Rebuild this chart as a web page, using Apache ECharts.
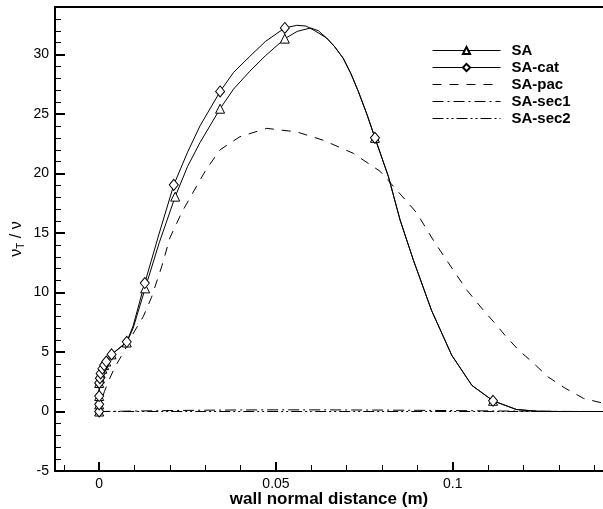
<!DOCTYPE html>
<html>
<head>
<meta charset="utf-8">
<script src="https://cdn.jsdelivr.net/npm/echarts@6/dist/echarts.min.js"></script>
<style>html,body{margin:0;padding:0;background:#fff}#c{width:603px;height:509px}</style>
</head>
<body>
<div id="c"></div>
<script>
// ---- data ----
var saX   = [0,0,0,0,0.0002,0.0004,0.0009,0.0014,0.002,0.0035,0.0078,0.0096,0.013,0.017,0.0215,0.025,0.0285,0.0342,0.038,0.0426,0.047,0.0525,0.056,0.0598,0.062,0.0643,0.0665,0.069,0.0712,0.0733,0.0757,0.078,0.0818,0.0851,0.0889,0.094,0.0997,0.1054,0.1114,0.118,0.124,0.13,0.1425];
var saY   = [0,0.6,1.3,2.4,2.8,3.2,3.6,3.9,4.2,4.8,5.8,7.0,10.35,14.2,18.06,20.6,22.6,25.45,27.1,28.6,29.9,31.34,31.95,32.24,32.0,31.4,30.7,29.7,28.4,26.9,25.0,23.0,19.75,16.1,12.7,8.5,4.74,2.2,0.9,0.17,0.02,0,0];
var saMarks = [0,1,2,3,4,5,6,7,8,9,10,12,14,17,21,31,38];

var catX  = [0,0,0,0,0.0002,0.0004,0.0009,0.0014,0.002,0.0035,0.0078,0.0096,0.0129,0.017,0.0211,0.025,0.0285,0.0342,0.038,0.0426,0.047,0.0525,0.0559,0.0585,0.061,0.0643,0.0665,0.069,0.0712,0.0733,0.0757,0.078,0.0818,0.0851,0.0889,0.094,0.0997,0.1054,0.1114,0.118,0.124,0.13,0.1425];
var catY  = [0,0.6,1.3,2.4,2.8,3.2,3.6,3.9,4.2,4.8,5.86,7.2,10.8,15.0,19.05,21.8,24.0,26.9,28.5,29.85,31.1,32.24,32.46,32.4,32.0,31.4,30.7,29.7,28.4,26.9,25.0,23.0,19.75,16.1,12.7,8.5,4.74,2.2,0.9,0.17,0.02,0,0];
var catMarks = [0,1,2,3,4,5,6,7,8,9,10,12,14,17,21,31,38];

var pacX  = [0,0.0005,0.0015,0.003,0.0044,0.0073,0.0095,0.0125,0.0148,0.0177,0.02,0.0233,0.0286,0.0304,0.0342,0.0398,0.0474,0.0559,0.0634,0.0719,0.0794,0.0842,0.0898,0.0945,0.0983,0.104,0.1087,0.1114,0.1148,0.1185,0.1227,0.127,0.1318,0.137,0.1425];
var pacY  = [0,0.8,1.7,2.8,3.7,5.2,6.5,8.0,9.6,12.2,14.6,16.7,19.5,20.4,22.0,23.1,23.8,23.5,22.8,21.7,20.2,18.6,16.7,14.4,12.7,10.2,8.5,7.6,6.4,5.2,4.1,2.9,1.96,1.1,0.7];

var sec1X = [0,0.01,0.02,0.03,0.04,0.05,0.06,0.07,0.08,0.09,0.1,0.11,0.12,0.13,0.1425];
var sec1Y = [0,0.04,0.08,0.11,0.13,0.14,0.14,0.13,0.12,0.1,0.08,0.05,0.03,0.01,0];
var sec2X = [0,0.02,0.04,0.06,0.08,0.1,0.12,0.1425];
var sec2Y = [0,0,0,0,0,0,0,0];

var xMajor = [0,0.05,0.1];
var xMinor = [-0.01,0,0.01,0.02,0.03,0.04,0.05,0.06,0.07,0.08,0.09,0.1,0.11,0.12,0.13,0.14];
var yMajor = [-5,0,5,10,15,20,25,30];
var yMinor = [];
for (var v = -5; v <= 34; v++) yMinor.push(v);

// ---- build ----
function pts(xs, ys, marks) {
  return xs.map(function (x, i) {
    var item = { value: [x, ys[i]] };
    if (marks && marks.indexOf(i) < 0) item.symbol = 'none';
    return item;
  });
}
function plain(xs, ys) { return xs.map(function (x, i) { return [x, ys[i]]; }); }

var FONT = 'Liberation Sans, Arial, sans-serif';
var chart = echarts.init(document.getElementById('c'), null, { renderer: 'canvas' });
var xCommon = { type: 'value', min: -0.0125, max: 0.1425, splitLine: { show: false } };
var yCommon = { type: 'value', min: -5, max: 34, splitLine: { show: false } };
var TRANSP = 'rgba(0,0,0,0)';

chart.setOption({
  animation: false,
  backgroundColor: '#fff',
  grid: { left: 55, top: 7, right: 0, bottom: 38, containLabel: false, outerBoundsMode: 'none' },
  legend: {
    orient: 'vertical', left: 432, top: 42, padding: 0,
    itemWidth: 68, itemHeight: 9, itemGap: 0,
    lineStyle: { width: 1 },
    textStyle: { fontFamily: FONT, fontSize: 15, fontWeight: 'bold', color: '#000', lineHeight: 17, padding: [0, 0, 0, 6] },
    data: ['SA', 'SA-cat', 'SA-pac', 'SA-sec1', 'SA-sec2']
  },
  xAxis: [
    Object.assign({}, xCommon, {
      position: 'bottom',
      name: 'wall normal distance (m)', nameLocation: 'middle', nameGap: 20, nameMoveOverlap: false,
      nameTextStyle: { fontFamily: FONT, fontSize: 17, fontWeight: 'bold', color: '#000' },
      axisLine: { show: true, onZero: false, lineStyle: { color: '#000', width: 2 } },
      axisTick: { show: true, inside: true, length: 9, customValues: xMajor, lineStyle: { color: '#000', width: 2 } },
      axisLabel: { show: true, margin: 6, customValues: xMajor, fontFamily: FONT, fontSize: 14, color: '#000',
        formatter: function (v) { return String(Math.round(v * 1000) / 1000); } }
    }),
    Object.assign({}, xCommon, {
      position: 'bottom',
      axisLine: { show: false, onZero: false },
      axisTick: { show: true, inside: true, length: 6, customValues: xMinor, lineStyle: { color: '#000', width: 1 } },
      axisLabel: { show: false }
    }),
    Object.assign({}, xCommon, {
      position: 'top',
      axisLine: { show: true, onZero: false, lineStyle: { color: '#000', width: 2 } },
      axisTick: { show: false }, axisLabel: { show: false }
    })
  ],
  yAxis: [
    Object.assign({}, yCommon, {
      position: 'left',
      name: '{a|ν}{s|T}{a| / ν}', nameLocation: 'middle', nameGap: 29, nameMoveOverlap: false,
      nameTextStyle: { fontFamily: FONT, color: '#000',
        rich: { a: { fontFamily: FONT, fontSize: 16, color: '#000' },
                s: { fontFamily: FONT, fontSize: 10, color: '#000', verticalAlign: 'bottom', padding: [8, 0, 0, 0] } } },
      axisLine: { show: true, onZero: false, lineStyle: { color: '#000', width: 2 } },
      axisTick: { show: true, inside: true, length: 10, customValues: yMajor, lineStyle: { color: '#000', width: 2 } },
      axisLabel: { show: true, margin: 6, customValues: yMajor, fontFamily: FONT, fontSize: 14, color: '#000' }
    }),
    Object.assign({}, yCommon, {
      position: 'left',
      axisLine: { show: false, onZero: false },
      axisTick: { show: true, inside: true, length: 6, customValues: yMinor, lineStyle: { color: '#000', width: 1 } },
      axisLabel: { show: false }
    })
  ],
  series: [
    { name: 'SA', type: 'line', data: pts(saX, saY, saMarks),
      symbol: 'triangle', symbolSize: 9, showSymbol: true, showAllSymbol: true,
      itemStyle: { color: '#fff', borderColor: '#000', borderWidth: 1 },
      lineStyle: { color: '#000', width: 1 }, z: 3 },
    { name: 'SA-cat', type: 'line', data: pts(catX, catY, catMarks),
      symbol: 'diamond', symbolSize: [9, 11], showSymbol: true, showAllSymbol: true,
      itemStyle: { color: '#fff', borderColor: '#000', borderWidth: 1 },
      lineStyle: { color: '#000', width: 1 }, z: 3 },
    { name: 'SA-pac', type: 'line', data: plain(pacX, pacY), symbol: 'none',
      itemStyle: { color: TRANSP, borderColor: TRANSP },
      lineStyle: { color: '#000', width: 1, type: [9, 8] }, z: 2 },
    { name: 'SA-sec1', type: 'line', data: plain(sec1X, sec1Y), symbol: 'none',
      itemStyle: { color: TRANSP, borderColor: TRANSP },
      lineStyle: { color: '#000', width: 1, type: [11, 4, 2, 4] }, z: 2 },
    { name: 'SA-sec2', type: 'line', data: plain(sec2X, sec2Y), symbol: 'none',
      itemStyle: { color: TRANSP, borderColor: TRANSP },
      lineStyle: { color: '#000', width: 1, type: [11, 3, 2, 3, 2, 3] }, z: 2 }
  ]
});
</script>
</body>
</html>
